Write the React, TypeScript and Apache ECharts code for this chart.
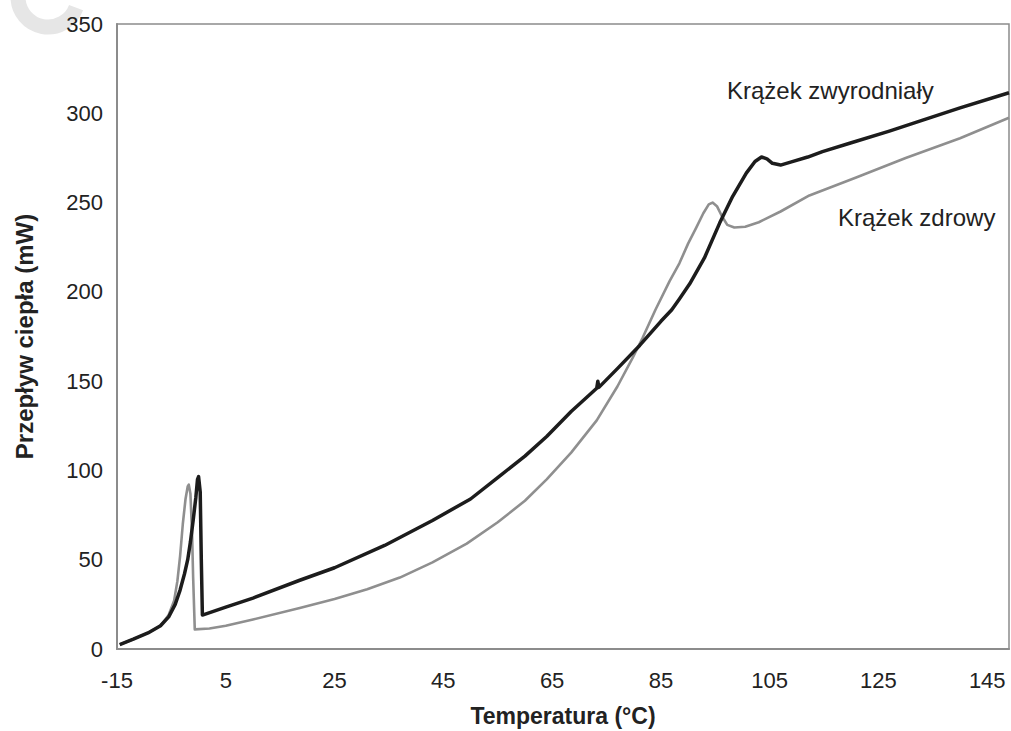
import React, { useEffect, useRef } from "react";
import * as echarts from "echarts";

// Temperature (°C) / heat flow (mW) pairs
const degenerateT = [-14.5, -12, -9.3, -7, -5.5, -4.3, -3.4, -2.6, -2.0, -1.5, -1.0, -0.5, -0.2, 0, 0.3, 0.5, 0.7, 5, 10, 18.6, 25, 34.2, 43, 50, 55.4, 60, 64, 68.5, 73.2, 73.4, 73.6, 77, 81.1, 85, 87, 88.4, 90.3, 93, 95.8, 98.2, 100.7, 102.3, 103.5, 104.5, 105.5, 107, 109, 112, 114.7, 120, 127, 133, 140, 149];
const degenerateV = [2.5, 5.5, 9, 13, 18, 25, 33, 42, 50, 60, 72, 85, 95, 96.5, 88, 50, 19, 23.5, 28.5, 38.5, 45.5, 58, 72, 84, 97, 108, 119, 133, 146, 150, 146.5, 157, 170, 183.5, 190, 196, 204.5, 219, 238.5, 253.5, 266.5, 273, 275.5, 274.5, 272, 271, 272.8, 275.5, 278.5, 283.5, 290, 296, 303, 311.5];

const healthyT = [-14.5, -12, -9.3, -7, -5.5, -4.5, -3.9, -3.4, -2.9, -2.4, -2.0, -1.8, -1.5, -1.2, -1.0, -0.7, 2, 5, 10, 18.6, 25, 31, 37, 43, 49.3, 55, 60, 64, 68.5, 73.2, 77, 79.8, 81.6, 84, 86.6, 88.4, 90, 91.5, 92.8, 93.8, 94.5, 95.3, 96.2, 97.2, 98.5, 100.5, 103, 107, 112.3, 120.9, 130, 140, 149];
const healthyV = [2.5, 5.5, 9, 13, 19, 27, 38, 52, 70, 84, 91, 92, 87, 65, 40, 11, 11.5, 13, 16.5, 23, 28, 33.5, 40, 48.5, 59, 71, 83, 95, 110, 128, 147, 163, 174, 190, 206, 216, 227, 236, 244, 249, 250, 248, 242.5, 237.5, 236, 236.5, 239, 245, 254, 264, 275, 286, 297.5];

const seriesNames = ["Krążek zdrowy", "Krążek zwyrodniały"];
const xTitle = "Temperatura (°C)";
const yTitle = "Przepływ ciepła (mW)";

const pairs = (xs: number[], ys: number[]) => xs.map((x, i) => [x, ys[i]]);

export default function App() {
  const ref = useRef<HTMLDivElement>(null);
  useEffect(() => {
    if (!ref.current) return;
    const chart = echarts.init(ref.current, undefined, { renderer: "svg" });
    const font = "'Liberation Sans', Arial, sans-serif";
    chart.setOption({
      animation: false,
      backgroundColor: "#ffffff",
      grid: {
        left: 117,
        top: 24,
        right: 2,
        bottom: 82,
        containLabel: false,
        outerBoundsMode: "none",
        show: true,
        borderColor: "#8c8c8c",
        borderWidth: 1.5,
      },
      xAxis: {
        type: "value",
        min: -15,
        max: 149,
        interval: 20,
        name: xTitle,
        nameLocation: "middle",
        nameGap: 55,
        nameTextStyle: { fontFamily: font, fontSize: 23, fontWeight: "bold", color: "#222" },
        axisLine: { show: true, onZero: false, lineStyle: { color: "#8c8c8c", width: 2 } },
        axisTick: { show: false },
        splitLine: { show: false },
        axisLabel: { showMaxLabel: false, margin: 20, fontFamily: font, fontSize: 22, color: "#222" },
      },
      yAxis: {
        type: "value",
        min: 0,
        max: 350,
        interval: 50,
        name: yTitle,
        nameLocation: "middle",
        nameGap: 81,
        nameRotate: 90,
        nameTextStyle: { fontFamily: font, fontSize: 24, fontWeight: "bold", color: "#222" },
        axisLine: { show: true, onZero: false, lineStyle: { color: "#8c8c8c", width: 2 } },
        axisTick: { show: false },
        splitLine: { show: false },
        axisLabel: { margin: 14, fontFamily: font, fontSize: 22, color: "#222" },
      },
      series: [
        {
          name: seriesNames[0],
          type: "line",
          data: pairs(healthyT, healthyV),
          showSymbol: false,
          lineStyle: { color: "#8f8f8f", width: 2.6, join: "round" },
          z: 2,
        },
        {
          name: seriesNames[1],
          type: "line",
          data: pairs(degenerateT, degenerateV),
          showSymbol: false,
          lineStyle: { color: "#1c1c1c", width: 3.5, join: "round" },
          z: 3,
        },
      ],
      graphic: [
        {
          type: "arc",
          shape: { cx: 48, cy: -3, r: 30, startAngle: 0.36, endAngle: Math.PI, clockwise: true },
          style: { stroke: "#e6e6e6", lineWidth: 15, fill: "none" },
          silent: true,
        },
        {
          type: "text",
          x: 727,
          y: 90,
          style: { text: seriesNames[1], font: `24px ${font}`, fill: "#222", textVerticalAlign: "middle" },
        },
        {
          type: "text",
          x: 838,
          y: 217,
          style: { text: seriesNames[0], font: `24px ${font}`, fill: "#222", textVerticalAlign: "middle" },
        },
      ],
    });
    return () => chart.dispose();
  }, []);
  return (
    <div
      ref={ref}
      style={{ position: "absolute", left: 0, top: 0, width: 1011, height: 731 }}
    />
  );
}
